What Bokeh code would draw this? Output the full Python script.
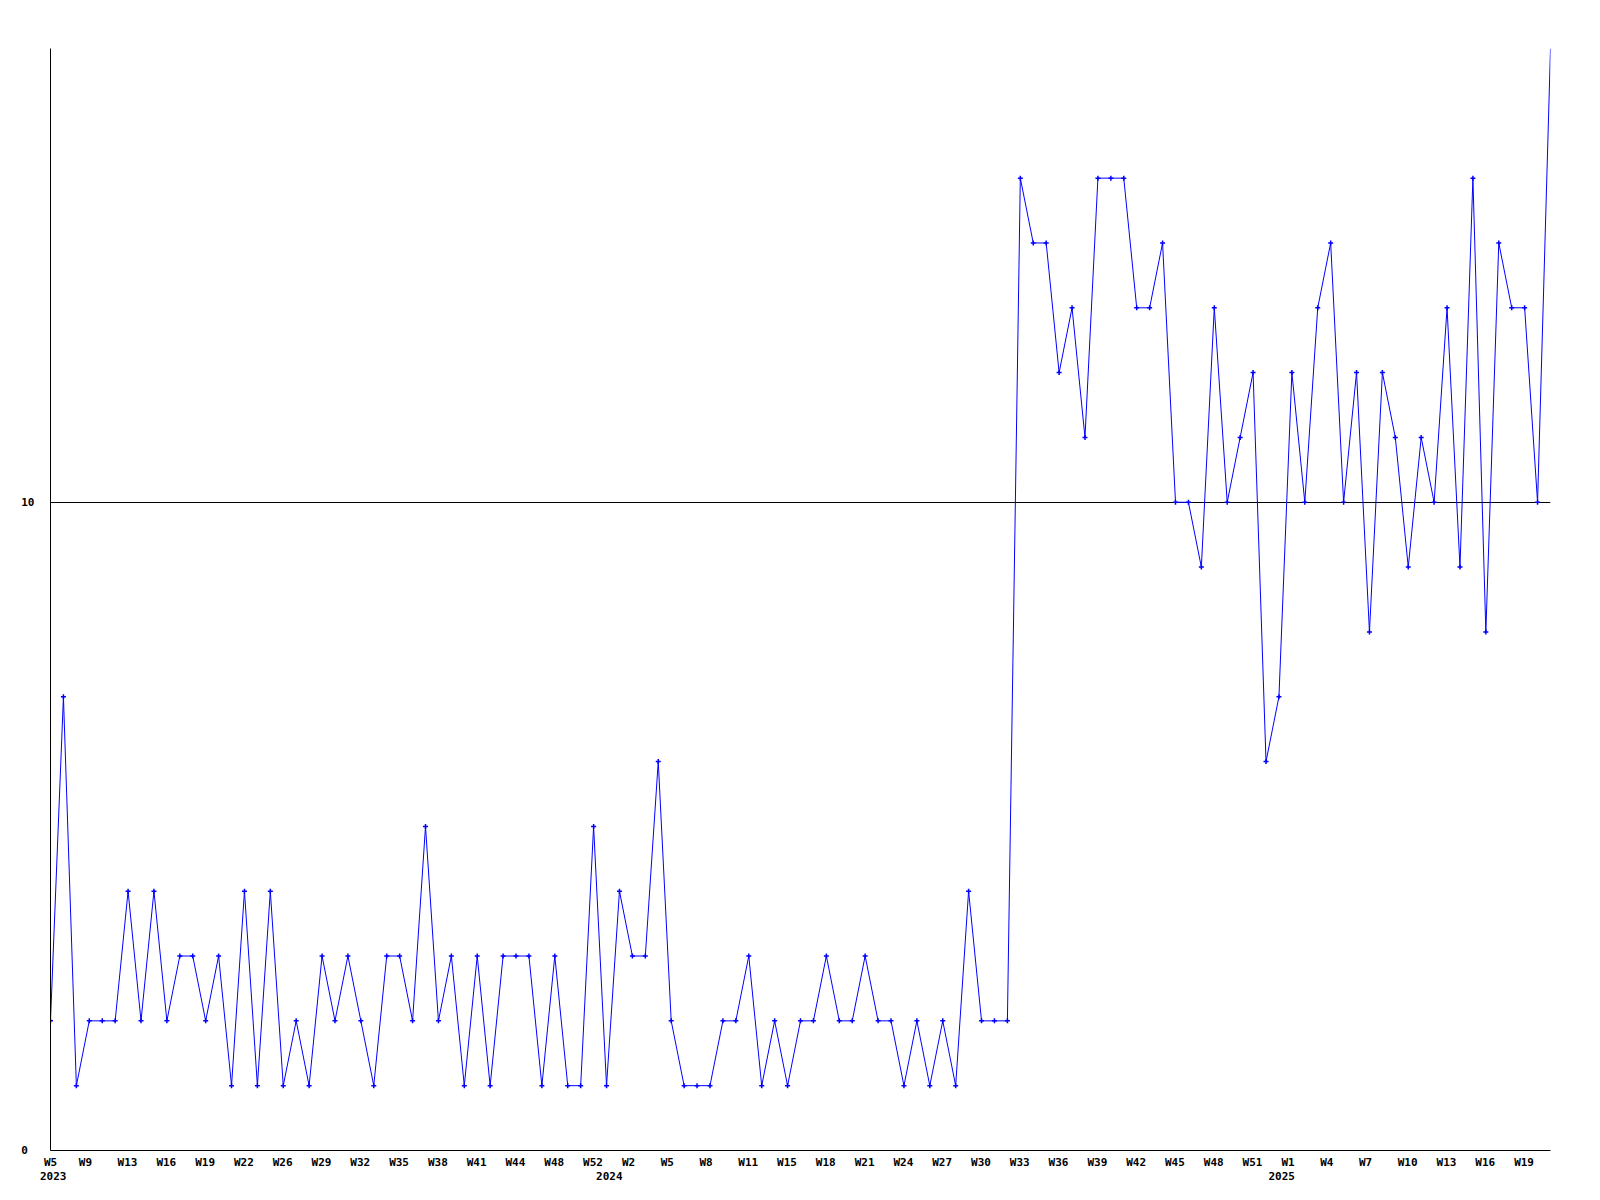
from bokeh.plotting import figure
from bokeh.models import Range1d, FixedTicker, LinearAxis
from bokeh.embed import file_html
from bokeh.resources import INLINE

# ---- data -------------------------------------------------------------
values = [
    2, 7, 1, 2, 2, 2, 4, 2, 4, 2, 3, 3, 2, 3, 1, 4, 1, 4, 1, 2,
    1, 3, 2, 3, 2, 1, 3, 3, 2, 5, 2, 3, 1, 3, 1, 3, 3, 3, 1, 3,
    1, 1, 5, 1, 4, 3, 3, 6, 2, 1, 1, 1, 2, 2, 3, 1, 2, 1, 2, 2,
    3, 2, 2, 3, 2, 2, 1, 2, 1, 2, 1, 4, 2, 2, 2,
    15, 14, 14, 12, 13, 11, 15, 15, 15, 13, 13, 14, 10, 10, 9, 13, 10, 11,
    12, 6, 7, 12, 10, 13, 14, 10, 12, 8, 12, 11, 9, 11, 10, 13, 9, 15, 8, 14, 13, 13, 10, 17,
]

# one label for every third point
week_labels = [
    "W5", "W9", "W13", "W16", "W19", "W22", "W26", "W29", "W32", "W35",
    "W38", "W41", "W44", "W48", "W52", "W2", "W5", "W8", "W11", "W15",
    "W18", "W21", "W24", "W27", "W30", "W33", "W36", "W39", "W42", "W45",
    "W48", "W51", "W1", "W4", "W7", "W10", "W13", "W16", "W19",
]
label_step = 3

# year label -> index of the point it sits under
year_labels = {"2023": 0, "2024": 43, "2025": 95}

y_ticks = [0, 10]
y_max = 17

# ---- style ------------------------------------------------------------
FONT = "DejaVu Sans Mono"
FONT_SIZE = "11px"
CHAR_W = 6.62          # advance of one character at FONT_SIZE
LABEL_LEFT = -10.5     # labels start this many px left of their point
FRAME_W, FRAME_H = 1500, 1102

x = list(range(len(values)))
px_per_idx = FRAME_W / (len(values) - 1)


def left_aligned(idx, text):
    """tick position so that a centred label starts LABEL_LEFT px from idx
    (kept inside the range so that no label is dropped)"""
    return max(0.0, idx + (LABEL_LEFT + len(text) * CHAR_W / 2) / px_per_idx)


p = figure(
    frame_width=FRAME_W, frame_height=FRAME_H,
    min_border_left=50, min_border_right=34, min_border_top=48, min_border_bottom=34,
    x_range=Range1d(0, len(values) - 1), y_range=Range1d(0, y_max),
    output_backend="svg", toolbar_location=None,
    background_fill_color="white", border_fill_color="white",
)
p.outline_line_color = None

# x axis (weeks)
xa = p.xaxis[0]
xt = [left_aligned(i * label_step, lab) for i, lab in enumerate(week_labels)]
xa.ticker = FixedTicker(ticks=xt)
xa.major_label_overrides = {t: lab for t, lab in zip(xt, week_labels)}
xa.major_tick_line_color = None
xa.major_tick_out = 0
xa.major_tick_in = 0
xa.minor_tick_line_color = None
xa.major_label_standoff = 5
xa.axis_line_color = "black"
xa.major_label_text_font = FONT
xa.major_label_text_font_style = "bold"
xa.major_label_text_font_size = FONT_SIZE
xa.major_label_text_color = "black"

# second row: years
yt = [left_aligned(v, k) for k, v in year_labels.items()]
year_axis = LinearAxis(
    ticker=FixedTicker(ticks=yt),
    major_label_overrides={t: k for t, k in zip(yt, year_labels.keys())},
    axis_line_color=None, major_tick_line_color=None, minor_tick_line_color=None,
    major_tick_out=0, major_tick_in=0, major_label_standoff=0,
    major_label_text_font=FONT, major_label_text_font_style="bold",
    major_label_text_font_size=FONT_SIZE, major_label_text_color="black",
)
p.add_layout(year_axis, "below")

# y axis
ya = p.yaxis[0]
ya.ticker = FixedTicker(ticks=y_ticks)
ya.major_label_overrides = {0: "0\u00a0"}   # keep the "0" left-aligned like "10"
ya.major_tick_line_color = None
ya.major_tick_out = 0
ya.major_tick_in = 0
ya.minor_tick_line_color = None
ya.major_label_standoff = 16
ya.axis_line_color = "black"
ya.major_label_text_font = FONT
ya.major_label_text_font_style = "bold"
ya.major_label_text_font_size = FONT_SIZE
ya.major_label_text_color = "black"

# grid: only the line at 10
p.xgrid.visible = False
p.ygrid.ticker = FixedTicker(ticks=[10])
p.ygrid.grid_line_color = "black"
p.ygrid.grid_line_alpha = 1.0
p.ygrid.grid_line_width = 1

# series
p.line(x, values, line_color="#0000ff", line_width=1)
p.scatter(x[:-1], values[:-1], marker="cross", size=5, line_color="#0000ff", line_width=1.5)

open("out.html", "w").write(file_html(p, INLINE))
